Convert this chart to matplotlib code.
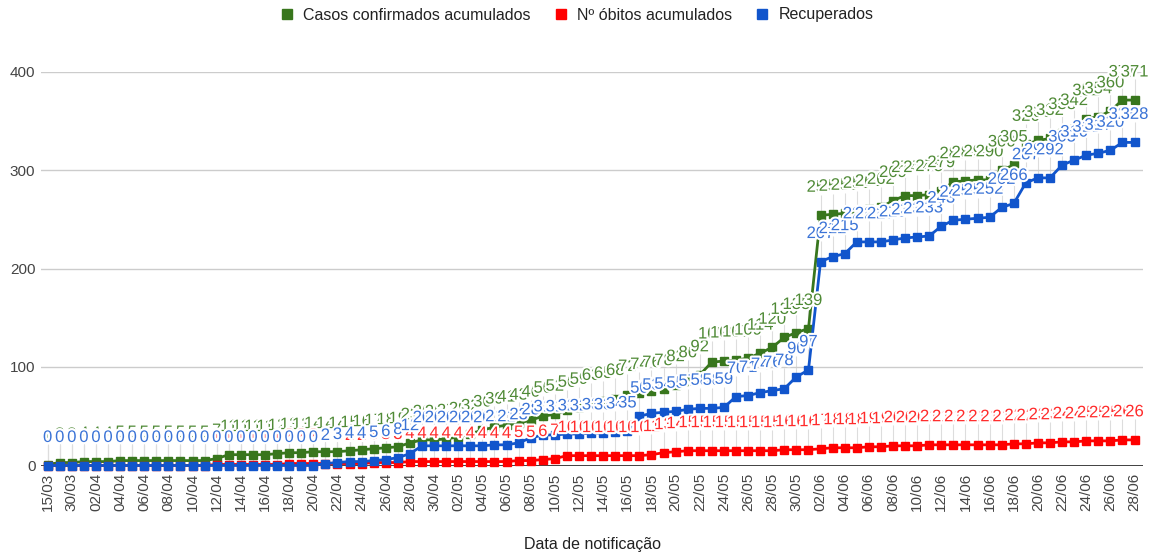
import matplotlib
matplotlib.use("Agg")
import matplotlib.pyplot as plt
import matplotlib.patheffects as pe
from matplotlib.lines import Line2D
import numpy as np

# --- categories (notification dates) ---
datas = (["15/03", "28/03", "30/03", "01/04"]
         + [f"{d:02d}/04" for d in range(2, 31)]
         + [f"{d:02d}/05" for d in range(1, 32)]
         + [f"{d:02d}/06" for d in range(2, 29)])

# --- series ---
casos = [1, 3, 3, 4, 4, 4, 5, 5, 5, 5, 5, 5, 5, 5, 7, 11, 11, 11, 11, 12,
         13, 13, 14, 14, 14, 15, 16, 17, 18, 19, 23, 26, 26, 27, 29, 32, 36, 39, 41, 43,
         46, 50, 52, 56, 59, 63, 65, 68, 72, 74, 76, 78, 82, 86, 92, 105, 106, 107, 109, 114,
         120, 130, 135, 139, 254, 255, 256, 258, 260, 262, 269, 274, 274, 275, 279, 288, 289, 290, 290, 300,
         305, 326, 330, 332, 338, 342, 352, 354, 360, 371, 371]

obitos = [0, 0, 0, 0, 0, 0, 0, 0, 0, 0, 0, 0, 0, 0, 1, 1, 1, 1, 1, 1,
          2, 2, 2, 2, 2, 2, 2, 3, 3, 3, 4, 4, 4, 4, 4, 4, 4, 4, 4, 5,
          5, 6, 7, 10, 10, 10, 10, 10, 10, 10, 11, 13, 14, 15, 15, 15, 15, 15, 15, 15,
          15, 16, 16, 16, 17, 18, 18, 18, 19, 19, 20, 20, 20, 21, 21, 21, 21, 21, 21, 21,
          22, 22, 23, 23, 24, 24, 25, 25, 25, 26, 26]

recuperados = [0, 0, 0, 0, 0, 0, 0, 0, 0, 0, 0, 0, 0, 0, 0, 0, 0, 0, 0, 0,
               0, 0, 0, 2, 3, 4, 4, 5, 6, 8, 12, 20, 20, 20, 20, 20, 20, 21, 21, 23,
               28, 31, 31, 32, 32, 33, 33, 34, 35, 50, 53, 54, 55, 57, 58, 58, 59, 70, 71, 74,
               76, 78, 90, 97, 207, 212, 215, 227, 227, 227, 229, 231, 232, 233, 243, 249, 250, 251, 252, 262,
               266, 287, 292, 292, 305, 310, 315, 317, 320, 328, 328]

nomes = ["Casos confirmados acumulados", "Nº óbitos acumulados", "Recuperados"]
cores = ["#38761d", "#ff0000", "#1155cc"]
cores_txt = ["#4f8a36", "#ff2b2b", "#3a73d6"]

plt.rcParams["font.family"] = ["Liberation Sans", "DejaVu Sans"]

W, H = 1151, 555
fig = plt.figure(figsize=(W / 100, H / 100), dpi=100)
ax = fig.add_axes([41 / W, 1 - 465.5 / H, (1143 - 41) / W, (465.5 - 71.5) / H])

x = np.arange(len(datas))
valores = [casos, obitos, recuperados]

# lines with square markers
for i, (vals, cor) in enumerate(zip(valores, cores)):
    ax.plot(x, vals, color=cor, lw=2, marker="s", ms=6.3, mec=cor,
            zorder=3 + i, clip_on=False)

# annotation stems + value labels (Google-Charts style)
halo = [pe.withStroke(linewidth=3, foreground="white")]
for i, (vals, cor_t) in enumerate(zip(valores, cores_txt)):
    v = np.array(vals)
    ax.vlines(x, v + 4, v + 21, color="#dddddd", lw=0.8, zorder=1)
    for xi, vi in zip(x, vals):
        ax.annotate(str(vi), (xi, vi), xytext=(0, 20.2), textcoords="offset points",
                    ha="center", va="center", fontsize=12, color=cor_t,
                    zorder=7 + i, path_effects=halo, annotation_clip=False)

# axes styling
ax.set_xlim(-0.55, 90.7)
ax.set_ylim(0, 400)
ax.set_yticks([0, 100, 200, 300, 400])
ax.grid(axis="y", color="#cccccc", lw=1, zorder=0)
ax.axhline(0, color="#333333", lw=1.3, zorder=2)
for s in ax.spines.values():
    s.set_visible(False)
ax.set_xticks(x[::2])
ax.set_xticklabels(datas[::2], rotation=90)
ax.tick_params(axis="x", length=0, pad=5, labelsize=11, labelcolor="#444444")
ax.tick_params(axis="y", length=0, pad=4, labelsize=11, labelcolor="#444444")

fig.text(592 / W, 1 - 545 / H, "Data de notificação", ha="center", va="center",
         fontsize=11.5, color="#222222")

# legend
handles = [Line2D([], [], color=c, marker="s", ls="none", ms=7.5) for c in cores]
fig.legend(handles, nomes, loc="center", bbox_to_anchor=(577 / W, 1 - 15 / H), ncol=3,
           frameon=False, fontsize=11.5, handlelength=0.8, handletextpad=0.6,
           columnspacing=1.5, labelcolor="#222222")

fig.savefig("out.png", dpi=100)
